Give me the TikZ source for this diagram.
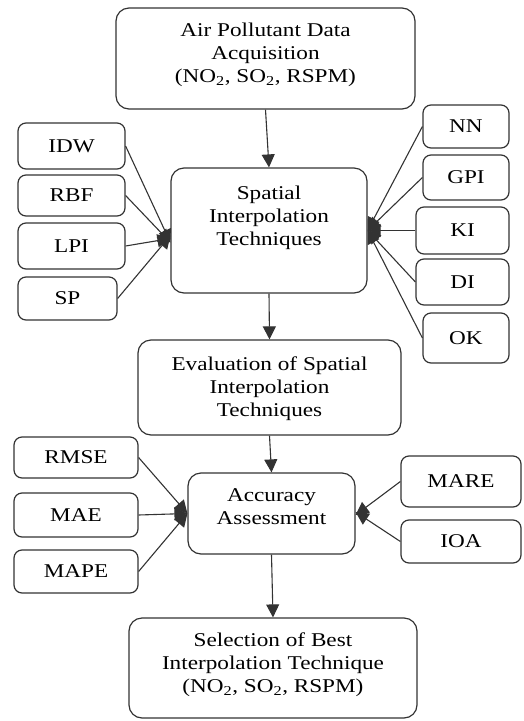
\documentclass[tikz,border=0pt]{standalone}
\usepackage{fontspec}
\setmainfont{Liberation Serif}[FakeStretch=1.19]
\usetikzlibrary{arrows.meta,calc}
\definecolor{edge}{HTML}{333333}
\tikzset{
  box/.style={draw=edge, line width=1.2pt, rounded corners=13pt, inner sep=0pt},
  smallbox/.style={draw=edge, line width=1.2pt, rounded corners=8pt, inner sep=0pt,
    font=\fontsize{19.5}{23}\selectfont},
  txt/.style={align=center, inner sep=0pt, font=\fontsize{19.5}{23}\selectfont},
  conn/.style={draw=edge, line width=1.1pt, -{Triangle[length=13pt,width=13pt]}}
}
\begin{document}
\begin{tikzpicture}[x=1pt,y=-1pt]
\useasboundingbox (0,0) rectangle (523,721);

% main flow boxes
\node[box, minimum width=299pt, minimum height=101pt] (acq) at (265.5,58.5) {};
\node[txt] (acqtxt) at (265.5,55) {Air Pollutant Data\\Acquisition\\(NO\textsubscript{2}, SO\textsubscript{2}, RSPM)};

\node[box, minimum width=196pt, minimum height=125pt] (spatial) at (269,230.5) {};
\node[txt] (spatialtxt) at (269,218) {Spatial\\Interpolation\\Techniques};

\node[box, minimum width=263pt, minimum height=95pt] (eval) at (269.5,387.5) {};
\node[txt] (evaltxt) at (269.5,389) {Evaluation of Spatial\\Interpolation\\Techniques};

\node[box, minimum width=167pt, minimum height=81pt] (acc) at (271.5,513.5) {};
\node[txt] (acctxt) at (271.5,507) {Accuracy\\Assessment};

\node[box, minimum width=288pt, minimum height=100pt] (sel) at (273,668) {};
\node[txt] (seltxt) at (273,665) {Selection of Best\\Interpolation Technique\\(NO\textsubscript{2}, SO\textsubscript{2}, RSPM)};

% interpolation methods, left
\node[smallbox, minimum width=107pt, minimum height=46pt] (idw) at (71.5,146) {IDW};
\node[smallbox, minimum width=107pt, minimum height=41pt] (rbf) at (71.5,195.5) {RBF};
\node[smallbox, minimum width=107pt, minimum height=46pt] (lpi) at (71.5,246) {LPI};
\node[smallbox, minimum width=99pt, minimum height=43pt] (sp) at (67.5,298.5) {SP};

% interpolation methods, right
\node[smallbox, minimum width=86pt, minimum height=43pt] (nn) at (466,126.5) {NN};
\node[smallbox, minimum width=86pt, minimum height=45pt] (gpi) at (466,177.5) {GPI};
\node[smallbox, minimum width=93pt, minimum height=47pt] (ki) at (462.5,230.5) {KI};
\node[smallbox, minimum width=93pt, minimum height=46pt] (di) at (462.5,282) {DI};
\node[smallbox, minimum width=86pt, minimum height=50pt] (ok) at (466,338) {OK};

% error measures
\node[smallbox, minimum width=124pt, minimum height=41pt] (rmse) at (76,457.5) {RMSE};
\node[smallbox, minimum width=124pt, minimum height=44pt] (mae) at (76,515) {MAE};
\node[smallbox, minimum width=124pt, minimum height=43pt] (mape) at (76,571.5) {MAPE};
\node[smallbox, minimum width=120pt, minimum height=51pt] (mare) at (461,481.5) {MARE};
\node[smallbox, minimum width=120pt, minimum height=43pt] (ioa) at (461,541.5) {IOA};

% vertical flow
\draw[conn] (acq.south) -- (spatial.north);
\draw[conn] (spatial.south) -- (eval.north);
\draw[conn] (eval.south) -- (acc.north);
\draw[conn] (acc.south) -- (sel.north);

% methods into the technique box
\draw[conn] (idw.east) -- ($(spatial.west)+(0,12)$);
\draw[conn] (rbf.east) -- ($(spatial.west)+(0,12)$);
\draw[conn] (lpi.east) -- ($(spatial.west)+(0,8)$);
\draw[conn] (sp.east) -- ($(spatial.west)+(0,5)$);
\draw[conn] (nn.west) -- (spatial.east);
\draw[conn] (gpi.west) -- (spatial.east);
\draw[conn] (ki.west) -- (spatial.east);
\draw[conn] (di.west) -- (spatial.east);
\draw[conn] (ok.west) -- (spatial.east);

% measures into the assessment box
\draw[conn] (rmse.east) -- (acc.west);
\draw[conn] (mae.east) -- (acc.west);
\draw[conn] (mape.east) -- (acc.west);
\draw[conn] (mare.west) -- ($(acc.east)+(0,1.5)$);
\draw[conn] (ioa.west) -- ($(acc.east)+(0,-1.5)$);
\end{tikzpicture}
\end{document}
